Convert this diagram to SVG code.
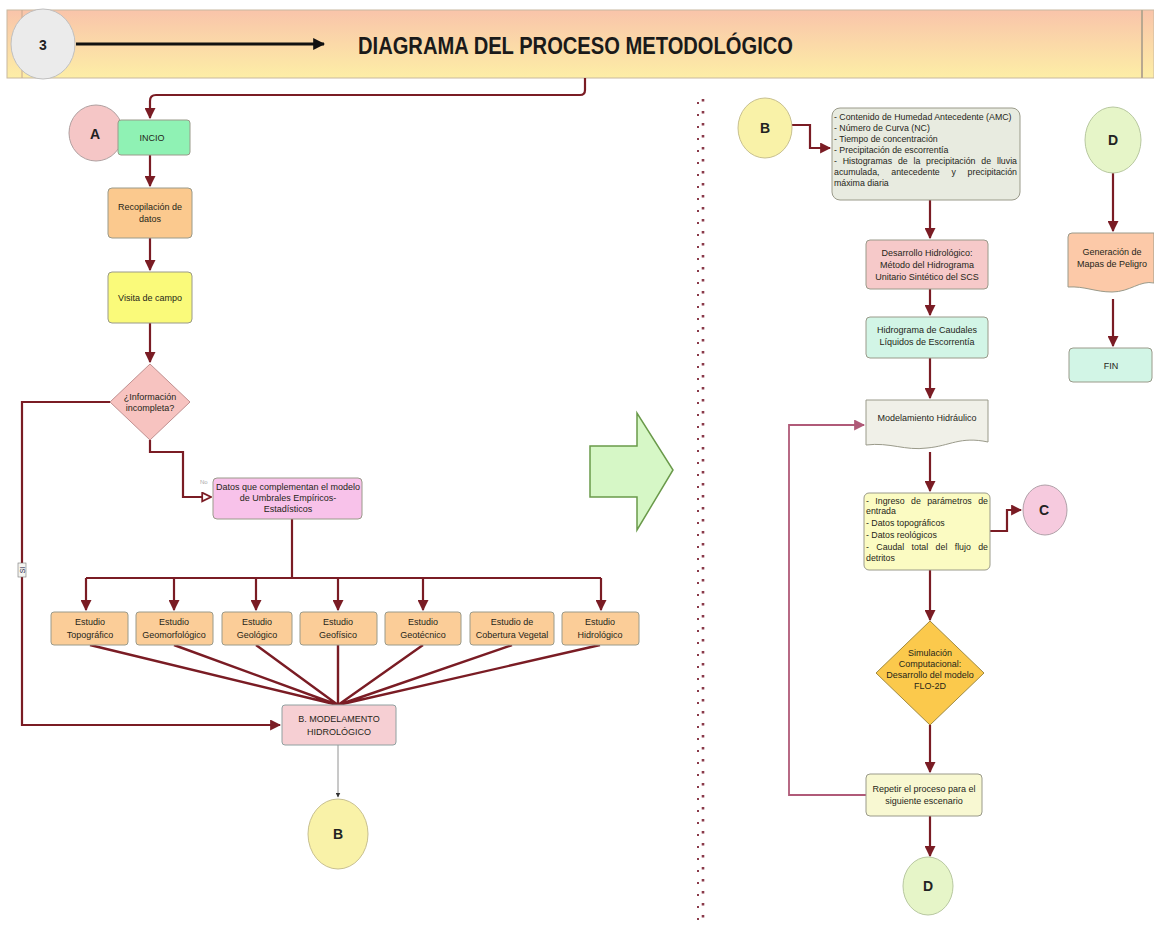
<svg xmlns="http://www.w3.org/2000/svg" width="1154" height="925" viewBox="0 0 1154 925">
  <defs>
    <linearGradient id="hdrGrad" x1="0" y1="0" x2="0" y2="1">
      <stop offset="0" stop-color="#f9c4aa"/>
      <stop offset="1" stop-color="#fdeea6"/>
    </linearGradient>
    <marker id="arrBig" viewBox="0 0 10 10" refX="9" refY="5" markerWidth="11" markerHeight="11" markerUnits="userSpaceOnUse" orient="auto">
      <path d="M0,0 L10,5 L0,10 z" fill="#7a1c24"/>
    </marker>
    <marker id="arrMauve" viewBox="0 0 10 10" refX="9" refY="5" markerWidth="11" markerHeight="11" markerUnits="userSpaceOnUse" orient="auto">
      <path d="M0,0 L10,5 L0,10 z" fill="#b05a78"/>
    </marker>
    <marker id="arrOpen" viewBox="0 0 10 10" refX="9" refY="5" markerWidth="11" markerHeight="11" markerUnits="userSpaceOnUse" orient="auto">
      <path d="M1,1 L9,5 L1,9 z" fill="#ffffff" stroke="#7a1c24" stroke-width="1.6"/>
    </marker>
    <marker id="arrBlack" viewBox="0 0 10 10" refX="9" refY="5" markerWidth="12" markerHeight="12" markerUnits="userSpaceOnUse" orient="auto">
      <path d="M0,0 L10,5 L0,10 z" fill="#111"/>
    </marker>
    <marker id="arrThin" viewBox="0 0 10 10" refX="9" refY="5" markerWidth="5" markerHeight="5" markerUnits="userSpaceOnUse" orient="auto">
      <path d="M0,0 L10,5 L0,10 z" fill="#333"/>
    </marker>
  </defs>
  <style>
    text { font-family: "Liberation Sans", Arial, sans-serif; fill: #262618; }
    .lbl { font-size: 9px; text-anchor: middle; }
    .lbl-l { font-size: 8.8px; }
    .end { text-anchor: end; }
    .big { font-size: 14px; font-weight: bold; text-anchor: middle; fill: #222; }
    .node { stroke: #9a9a8a; stroke-width: 1; }
    .flow { fill: none; stroke: #7a1c24; stroke-width: 2.2; marker-end: url(#arrBig); }
    .flowB { fill: none; stroke: #7a1c24; stroke-width: 2.2; }
    .fan { fill: none; stroke: #7a1c24; stroke-width: 2.4; }
  </style>

  <rect width="1154" height="925" fill="#ffffff"/>

  <!-- header band -->
  <g id="header">
    <rect x="7" y="10" width="1147" height="68" fill="url(#hdrGrad)" stroke="#c8b8a0" stroke-width="1"/>
    <line x1="22" y1="10" x2="22" y2="78" stroke="#c8a890" stroke-width="1"/>
    <line x1="1142" y1="10" x2="1142" y2="78" stroke="#b8a890" stroke-width="2"/>
    <ellipse cx="43" cy="44" rx="32" ry="35" fill="#ebebeb" stroke="#c0c0c0" stroke-width="1"/>
    <text x="43" y="50" class="big">3</text>
    <line x1="76" y1="44" x2="324" y2="44" stroke="#111" stroke-width="3" marker-end="url(#arrBlack)"/>
    <text x="358" y="54" font-size="24" font-weight="bold" textLength="435" lengthAdjust="spacingAndGlyphs" style="fill:#1a1a1a">DIAGRAMA DEL PROCESO METODOLÓGICO</text>
  </g>

  <!-- separators -->
  <g id="separators">
    <line x1="698" y1="102" x2="698" y2="925" stroke="#8a3a4a" stroke-width="2" stroke-dasharray="2,10"/>
    <line x1="703" y1="99" x2="703" y2="925" stroke="#8a3a4a" stroke-width="2.6" stroke-dasharray="2.6,9.4"/>
    <polygon points="590,446 637,446 637,413 673,470 637,530 637,497 590,497" fill="#d6f7c6" stroke="#6a9a4a" stroke-width="1.5"/>
  </g>

  <!-- connectors -->
  <g id="connectors">
    <path d="M585,78 V90 Q585,95 580,95 H156 Q150,95 150,101 V118" class="flow" stroke-width="2"/>
    <path d="M150,155 V186" class="flow"/>
    <path d="M150,238 V270" class="flow"/>
    <path d="M150,323 V362" class="flow"/>
    <path d="M110,402 H22 V725 H280" class="flow"/>
    <path d="M150,440 V452 H183 V497 H211" class="flowB" marker-end="url(#arrOpen)"/>
    <path d="M292,519 V578" class="flowB"/>
    <path d="M86,578 H601" class="flowB"/>
    <path d="M86,578 V610" class="flow"/>
    <path d="M174,578 V610" class="flow"/>
    <path d="M256,578 V610" class="flow"/>
    <path d="M338,578 V610" class="flow"/>
    <path d="M423,578 V610" class="flow"/>
    <path d="M601,578 V610" class="flow"/>
    <path d="M90,645 L338,705 M174,645 L338,705 M256,645 L338,705 M338,645 L338,705 M423,645 L338,705 M512,645 L338,705 M600,645 L338,705" class="fan"/>
    <path d="M338,745 V797" fill="none" stroke="#777" stroke-width="0.8" marker-end="url(#arrThin)"/>

    <path d="M792,125 H810 V148 H830" class="flow"/>
    <path d="M930,200 V238" class="flow"/>
    <path d="M930,289 V315" class="flow"/>
    <path d="M930,358 V398" class="flow"/>
    <path d="M930,452 V491" class="flow"/>
    <path d="M990,531 H1007 V510 H1021" class="flow"/>
    <path d="M930,570 V620" class="flow"/>
    <path d="M930,725 V772" class="flow"/>
    <path d="M930,816 V856" class="flow"/>
    <path d="M866,795 H789 V425 H864" fill="none" stroke="#b05a78" stroke-width="1.8" marker-end="url(#arrMauve)"/>
    <path d="M1113,173 V231" class="flow"/>
    <path d="M1113,299 V346" class="flow"/>

    <text x="200" y="484" font-size="6" style="fill:#aaa">No</text>
    <rect x="18" y="563" width="8" height="14" fill="#f4f4f0" stroke="#777" stroke-width="0.6"/>
    <text x="0" y="0" font-size="7" transform="translate(24.5,570) rotate(-90)" text-anchor="middle" style="fill:#224">SI</text>
  </g>

  <!-- left column nodes -->
  <g id="nA">
    <ellipse cx="96" cy="133" rx="27" ry="28" fill="#f5c6c6" stroke="#b0a0a0"/>
    <text x="95" y="139" class="big" font-size="15">A</text>
  </g>
  <g id="nInicio">
    <rect x="118" y="120" width="72" height="35" rx="3" fill="#8ff2b4" class="node"/>
    <text x="152" y="141" class="lbl">INCIO</text>
  </g>
  <g id="nRecop">
    <rect x="108" y="188" width="84" height="50" rx="4" fill="#fbc98e" class="node"/>
    <text x="150" y="210" class="lbl">Recopilación de</text>
    <text x="150" y="222" class="lbl">datos</text>
  </g>
  <g id="nVisita">
    <rect x="108" y="272" width="84" height="51" rx="4" fill="#fafa7a" class="node"/>
    <text x="150" y="301" class="lbl">Visita de campo</text>
  </g>
  <g id="nInfo">
    <polygon points="150,364 190,402 150,440 110,402" fill="#f7c3c0" stroke="#c09090"/>
    <text x="150" y="400" class="lbl">¿Información</text>
    <text x="150" y="411" class="lbl">incompleta?</text>
  </g>
  <g id="nDatos">
    <rect x="213" y="478" width="149" height="41" rx="4" fill="#f8c2ea" class="node"/>
    <text x="288" y="490" class="lbl">Datos que complementan el modelo</text>
    <text x="288" y="501" class="lbl">de Umbrales Empíricos-</text>
    <text x="288" y="512" class="lbl">Estadísticos</text>
  </g>
  <g id="nTopo">
    <rect x="51" y="612" width="77" height="33" rx="3" fill="#fbcd98" class="node"/>
    <text x="90" y="625" class="lbl">Estudio</text>
    <text x="90" y="638" class="lbl">Topográfico</text>
  </g>
  <g id="nGeomorf">
    <rect x="136" y="612" width="77" height="33" rx="3" fill="#fbcd98" class="node"/>
    <text x="174" y="625" class="lbl">Estudio</text>
    <text x="174" y="638" class="lbl">Geomorfológico</text>
  </g>
  <g id="nGeol">
    <rect x="222" y="612" width="70" height="33" rx="3" fill="#fbcd98" class="node"/>
    <text x="257" y="625" class="lbl">Estudio</text>
    <text x="257" y="638" class="lbl">Geológico</text>
  </g>
  <g id="nGeof">
    <rect x="300" y="612" width="77" height="33" rx="3" fill="#fbcd98" class="node"/>
    <text x="338" y="625" class="lbl">Estudio</text>
    <text x="338" y="638" class="lbl">Geofísico</text>
  </g>
  <g id="nGeot">
    <rect x="385" y="612" width="76" height="33" rx="3" fill="#fbcd98" class="node"/>
    <text x="423" y="625" class="lbl">Estudio</text>
    <text x="423" y="638" class="lbl">Geotécnico</text>
  </g>
  <g id="nVeg">
    <rect x="470" y="612" width="84" height="33" rx="3" fill="#fbcd98" class="node"/>
    <text x="512" y="625" class="lbl">Estudio de</text>
    <text x="512" y="638" class="lbl">Cobertura Vegetal</text>
  </g>
  <g id="nHidro">
    <rect x="562" y="612" width="77" height="33" rx="3" fill="#fbcd98" class="node"/>
    <text x="600" y="625" class="lbl">Estudio</text>
    <text x="600" y="638" class="lbl">Hidrológico</text>
  </g>
  <g id="nModHid">
    <rect x="282" y="705" width="114" height="40" rx="3" fill="#f6cfd3" stroke="#90a0a0" stroke-width="1"/>
    <text x="339" y="722" class="lbl">B. MODELAMENTO</text>
    <text x="339" y="735" class="lbl">HIDROLÓGICO</text>
  </g>
  <g id="nB1">
    <ellipse cx="338" cy="834" rx="30" ry="35" fill="#f9f2a8" stroke="#c8c090"/>
    <text x="338" y="839" class="big" font-size="13">B</text>
  </g>

  <!-- right column nodes -->
  <g id="nB2">
    <ellipse cx="765" cy="128" rx="27" ry="30" fill="#f9f2a8" stroke="#c8c090"/>
    <text x="765" y="133" class="big" font-size="13">B</text>
  </g>
  <g id="nParam">
    <rect x="832" y="108" width="188" height="92" rx="8" fill="#e8ebe0" class="node"/>
    <text x="834" y="120" class="lbl-l">- Contenido de Humedad Antecedente (AMC)</text>
    <text x="834" y="131" class="lbl-l">- Número de Curva (NC)</text>
    <text x="834" y="142" class="lbl-l">- Tiempo de concentración</text>
    <text x="834" y="153" class="lbl-l">- Precipitación de escorrentía</text>
    <text y="164" class="lbl-l"><tspan x="834">-</tspan><tspan x="842.7">Histogramas</tspan><tspan x="897.9">de</tspan><tspan x="913.5">la</tspan><tspan x="926.1">precipitación</tspan><tspan x="981.3">de</tspan><tspan x="1017" class="end">lluvia</tspan></text>
    <text y="175" class="lbl-l"><tspan x="834">acumulada,</tspan><tspan x="891.3">antecedente</tspan><tspan x="951.5">y</tspan><tspan x="1017" class="end">precipitación</tspan></text>
    <text x="834" y="186" class="lbl-l">máxima diaria</text>
  </g>
  <g id="nSCS">
    <rect x="866" y="240" width="122" height="49" rx="4" fill="#f6c9c9" class="node"/>
    <text x="927" y="256" class="lbl">Desarrollo Hidrológico:</text>
    <text x="927" y="268" class="lbl">Método del Hidrograma</text>
    <text x="927" y="280" class="lbl">Unitario Sintético del SCS</text>
  </g>
  <g id="nHidrograma">
    <rect x="866" y="317" width="122" height="41" rx="4" fill="#d2f5e6" class="node"/>
    <text x="927" y="333" class="lbl">Hidrograma de Caudales</text>
    <text x="927" y="345" class="lbl">Líquidos de Escorrentía</text>
  </g>
  <g id="nModHidr">
    <path d="M866,400 H988 V442 C960,436 950,446 927,448 C905,451 890,442 866,445 Z" fill="#f0f0e8" class="node"/>
    <text x="927" y="421" class="lbl">Modelamiento Hidráulico</text>
  </g>
  <g id="nIngreso">
    <rect x="864" y="493" width="126" height="77" rx="5" fill="#fbfbc2" class="node"/>
    <text y="504" class="lbl-l"><tspan x="866">-</tspan><tspan x="875.3">Ingreso</tspan><tspan x="911">de</tspan><tspan x="927.2">parámetros</tspan><tspan x="988" class="end">de</tspan></text>
    <text x="866" y="514" class="lbl-l">entrada</text>
    <text x="866" y="526" class="lbl-l">- Datos topográficos</text>
    <text x="866" y="538" class="lbl-l">- Datos reológicos</text>
    <text y="550" class="lbl-l"><tspan x="866">-</tspan><tspan x="876.3">Caudal</tspan><tspan x="911.6">total</tspan><tspan x="935.6">del</tspan><tspan x="954.7">flujo</tspan><tspan x="988" class="end">de</tspan></text>
    <text x="866" y="561" class="lbl-l">detritos</text>
  </g>
  <g id="nC">
    <ellipse cx="1045" cy="510" rx="22" ry="25" fill="#f6cade" stroke="#b0a0a8"/>
    <text x="1044" y="515" class="big" font-size="13">C</text>
  </g>
  <g id="nFlo2d">
    <polygon points="930,621 984,673 930,725 876,673" fill="#fbc94c" stroke="#a08a40"/>
    <text x="930" y="656" class="lbl">Simulación</text>
    <text x="930" y="667" class="lbl">Computacional:</text>
    <text x="930" y="678" class="lbl">Desarrollo del modelo</text>
    <text x="930" y="689" class="lbl">FLO-2D</text>
  </g>
  <g id="nRepetir">
    <rect x="866" y="774" width="116" height="42" rx="4" fill="#f8f8d2" class="node"/>
    <text x="924" y="792" class="lbl">Repetir el proceso para el</text>
    <text x="924" y="804" class="lbl">siguiente escenario</text>
  </g>
  <g id="nD1">
    <ellipse cx="928" cy="886" rx="25" ry="29" fill="#e6f5c8" stroke="#b8c8a0"/>
    <text x="928" y="891" class="big" font-size="13">D</text>
  </g>
  <g id="nD2">
    <ellipse cx="1113" cy="140" rx="28" ry="33" fill="#e6f5c8" stroke="#b8c8a0"/>
    <text x="1113" y="145" class="big" font-size="13">D</text>
  </g>
  <g id="nMapas">
    <path d="M1072,233 H1154 V283 C1140,280 1130,292 1112,292 C1095,292 1085,286 1068,287 V237 Q1068,233 1072,233 Z" fill="#fcc9a8" class="node"/>
    <text x="1112" y="255" class="lbl">Generación de</text>
    <text x="1112" y="267" class="lbl">Mapas de Peligro</text>
  </g>
  <g id="nFin">
    <rect x="1069" y="348" width="83" height="34" rx="4" fill="#d2f5e6" class="node"/>
    <text x="1111" y="369" class="lbl">FIN</text>
  </g>
</svg>
